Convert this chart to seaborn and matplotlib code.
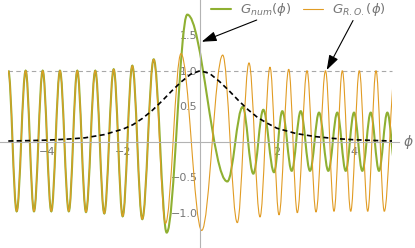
import matplotlib
matplotlib.use("Agg")
import matplotlib.pyplot as plt
import seaborn as sns
from matplotlib.lines import Line2D
from matplotlib.patches import PathPatch, Rectangle
from matplotlib.path import Path
from matplotlib.ticker import FixedLocator, FuncFormatter, MultipleLocator

# turning points (phi, value)
phi_num = [-5.000, -4.781, -4.547, -4.330, -4.103, -3.879, -3.653, -3.423, -3.202, -2.975,
           -2.733, -2.498, -2.253, -2.019, -1.768, -1.508, -1.211, -0.872, -0.335, 0.708,
           1.109, 1.385, 1.646, 1.925, 2.141, 2.386, 2.621, 2.863, 3.098, 3.340,
           3.574, 3.793, 4.010, 4.226, 4.445, 4.661, 4.878, 5.100]
g_num = [1.0, -0.98, 1.0, -0.98, 1.0, -0.98, 1.0, -0.98, 1.0, -0.99,
         1.0, -1.01, 1.02, -1.05, 1.07, -1.09, 1.16, -1.28, 1.79, -0.56,
         0.49, -0.45, 0.45, -0.43, 0.43, -0.41, 0.43, -0.41, 0.41, -0.41,
         0.41, -0.41, 0.41, -0.41, 0.41, -0.41, 0.41, -0.41]

phi_ro = [-5.000, -4.781, -4.547, -4.330, -4.103, -3.879, -3.653, -3.423, -3.202, -2.975,
          -2.733, -2.498, -2.253, -2.019, -1.768, -1.508, -1.211, -0.903, -0.499, 0.040,
          0.588, 0.968, 1.273, 1.560, 1.820, 2.055, 2.308, 2.532, 2.785, 3.019,
          3.267, 3.488, 3.705, 3.924, 4.148, 4.367, 4.583, 4.799, 5.078]
g_ro = [1.0, -0.98, 1.0, -0.98, 1.0, -0.98, 1.0, -0.98, 1.0, -0.99,
        1.0, -1.01, 1.02, -1.05, 1.07, -1.09, 1.16, -1.15, 1.24, -1.25,
        1.22, -1.14, 1.11, -1.06, 1.05, -1.03, 1.02, -1.0, 1.0, -0.99,
        1.0, -0.98, 1.0, -0.98, 1.0, -0.98, 1.0, -0.98, 1.0]

# dashed envelope
phi_env = [-5, -4.5, -4, -3.5, -3, -2.5, -2, -1.75, -1.5, -1.25, -1, -0.75, -0.5, -0.25, 0,
           0.25, 0.5, 0.75, 1, 1.25, 1.5, 1.75, 2, 2.5, 3, 3.5, 4, 4.5, 5]
env = [0.01, 0.015, 0.022, 0.035, 0.055, 0.10, 0.18, 0.24, 0.33, 0.44, 0.57, 0.71, 0.84, 0.95, 1.0,
       0.96, 0.85, 0.72, 0.58, 0.45, 0.34, 0.26, 0.19, 0.115, 0.072, 0.045, 0.028, 0.018, 0.01]

x_ticks = [-4, -2, 2, 4]
y_ticks = [-1.0, -0.5, 0.5, 1.0, 1.5]
labels = [r"$G_{num}(\phi)$", r"$G_{R.O.}(\phi)$"]

GREEN = "#8FB032"
ORANGE = "#E19C24"
AXIS_GRAY = "#b3b3b3"
TEXT_GRAY = "#777777"


def wave(xs, ys):
    # smooth curve through turning points (flat tangent at each extremum)
    verts = [(xs[0], ys[0])]
    codes = [Path.MOVETO]
    for i in range(len(xs) - 1):
        d = xs[i + 1] - xs[i]
        verts += [(xs[i] + 0.3634 * d, ys[i]), (xs[i + 1] - 0.3634 * d, ys[i + 1]), (xs[i + 1], ys[i + 1])]
        codes += [Path.CURVE4] * 3
    return Path(verts, codes)


sns.set_style("white")
plt.rcParams["font.family"] = ["DejaVu Sans"]

fig = plt.figure(figsize=(4.15, 2.48), dpi=100)
ax = fig.add_axes([0, 0, 1, 1])
ax.set_xlim(-5.216, 5.599)
ax.set_ylim(-1.497, 1.996)

ax.hlines(1.0, -5, 5, color="#a8a8a8", lw=0.8, linestyles=(0, (4, 3)), zorder=1)

clip = Rectangle((-5, -3), 10, 6, transform=ax.transData)
for xs, ys, col, lw in [(phi_num, g_num, GREEN, 1.5), (phi_ro, g_ro, ORANGE, 0.8)]:
    p = PathPatch(wave(xs, ys), fill=False, edgecolor=col, lw=lw, zorder=2)
    ax.add_patch(p)
    p.set_clip_path(clip)

sns.lineplot(x=phi_env, y=env, ax=ax, color="black", lw=1.2, linestyle=(0, (3, 2)), zorder=3)

for side in ["top", "right"]:
    ax.spines[side].set_visible(False)
for side in ["left", "bottom"]:
    ax.spines[side].set_position(("data", 0))
    ax.spines[side].set_color(AXIS_GRAY)
    ax.spines[side].set_linewidth(0.8)
ax.spines["bottom"].set_bounds(-5.216, 5.18)

ax.xaxis.set_major_locator(FixedLocator(x_ticks))
ax.xaxis.set_major_formatter(FuncFormatter(lambda v, _: f"{v:.0f}".replace("-", "\u2212")))
ax.xaxis.set_minor_locator(MultipleLocator(0.5))
ax.yaxis.set_major_locator(FixedLocator(y_ticks))
ax.yaxis.set_major_formatter(FuncFormatter(lambda v, _: f"{v:.1f}".replace("-", "\u2212")))
ax.yaxis.set_minor_locator(MultipleLocator(0.1))
ax.tick_params(which="both", direction="in", color=AXIS_GRAY, width=0.6)
ax.tick_params(which="major", length=4, labelsize=8, labelcolor=TEXT_GRAY)
ax.tick_params(which="minor", length=2)
ax.tick_params(axis="x", pad=3.5)
ax.tick_params(axis="y", pad=2)

ax.text(5.417, 0, r"$\phi$", ha="center", va="center", fontsize=10, color=TEXT_GRAY)

handles = [Line2D([], [], color=GREEN, lw=1.5), Line2D([], [], color=ORANGE, lw=0.8)]
leg = ax.legend(handles, labels, loc="upper left", bbox_to_anchor=(211 / 415, 0.995), ncol=2,
                frameon=False, fontsize=9.5, handlelength=1.5, handletextpad=0.7,
                columnspacing=0.9, borderpad=0.0, borderaxespad=0.0)
for t in leg.get_texts():
    t.set_color(TEXT_GRAY)

arrow = dict(arrowstyle="-|>,head_length=0.9,head_width=0.3", color="black", lw=0.8,
             mutation_scale=10, shrinkA=0, shrinkB=0)
ax.annotate("", xy=(0.040, 1.408), xytext=(1.474, 1.714), arrowprops=arrow)
ax.annotate("", xy=(3.298, 1.01), xytext=(3.984, 1.707), arrowprops=arrow)

fig.savefig("out.png", dpi=100)
